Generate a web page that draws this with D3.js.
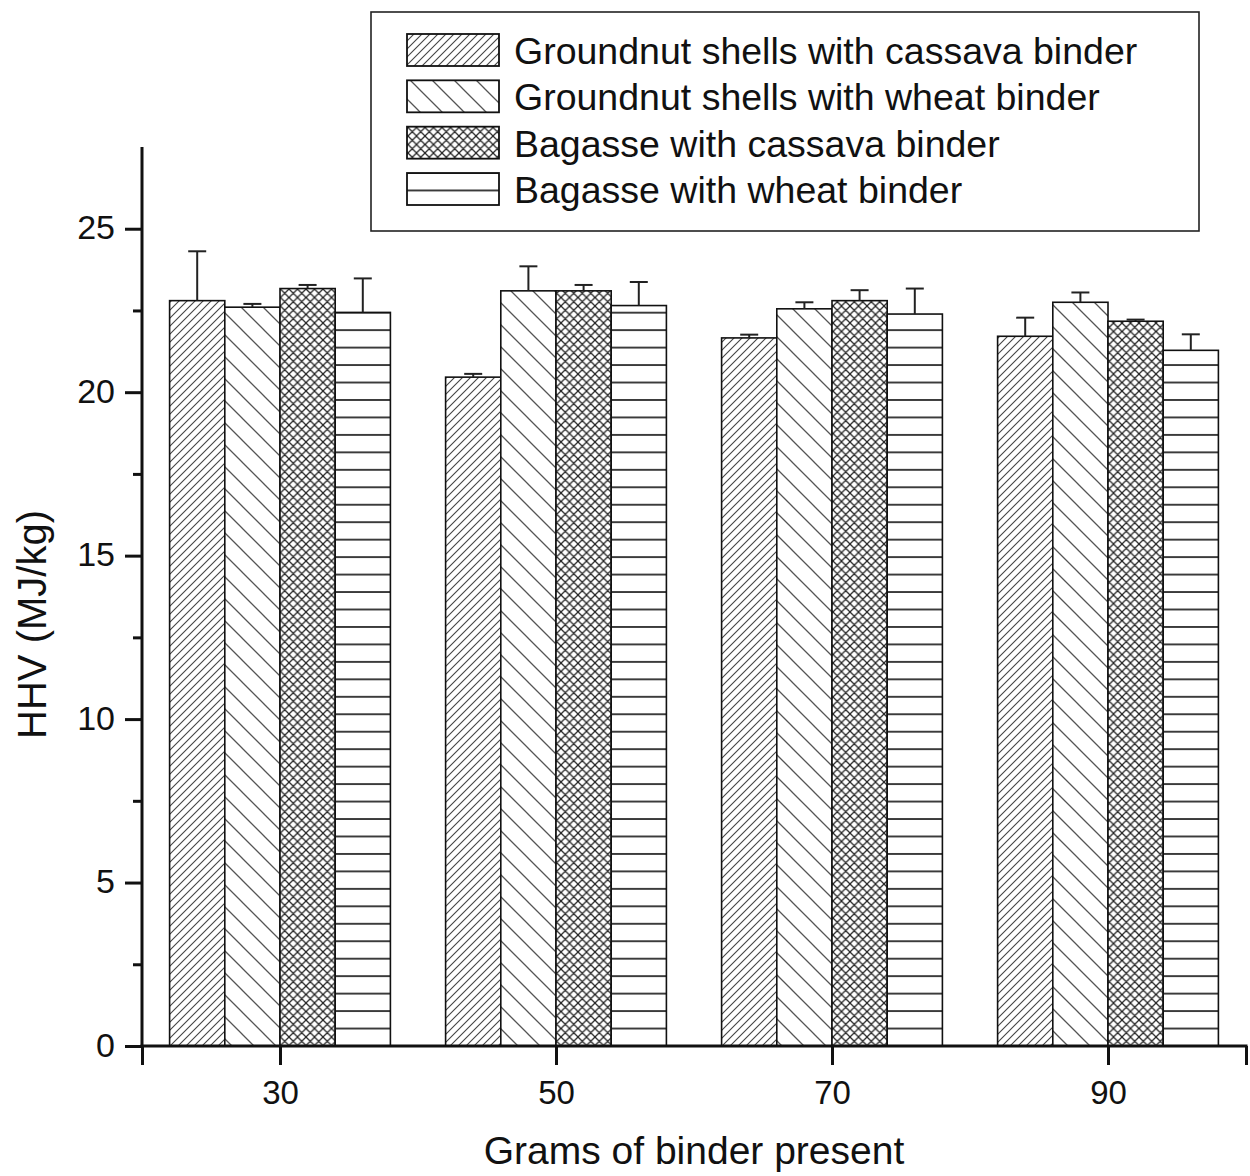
<!DOCTYPE html>
<html>
<head>
<meta charset="utf-8">
<script src="https://cdn.jsdelivr.net/npm/d3@7"></script>
<style>
  html, body { margin: 0; padding: 0; background: #fff; }
  svg { display: block; font-family: "Liberation Sans", Arial, sans-serif; }
</style>
</head>
<body>
<svg id="chart" width="1250" height="1176"></svg>
<script>
// Binder amounts (g) on the x axis
const binderGrams = [30, 50, 70, 90];

// Series names (legend order)
const seriesNames = [
  "Groundnut shells with cassava binder",
  "Groundnut shells with wheat binder",
  "Bagasse with cassava binder",
  "Bagasse with wheat binder"
];

// HHV means (MJ/kg) per series, one value per binder amount
const groundnutCassava = [22.80, 20.46, 21.66, 21.71];
const groundnutWheat   = [22.60, 23.10, 22.55, 22.75];
const bagasseCassava   = [23.17, 23.10, 22.80, 22.17];
const bagasseWheat     = [22.44, 22.65, 22.39, 21.28];

// Standard deviations (upper error bars)
const groundnutCassavaErr = [1.51, 0.10, 0.10, 0.57];
const groundnutWheatErr   = [0.10, 0.75, 0.20, 0.30];
const bagasseCassavaErr   = [0.11, 0.18, 0.32, 0.05];
const bagasseWheatErr     = [1.04, 0.72, 0.78, 0.49];

// Axis ticks
const yMajorTicks = [0, 5, 10, 15, 20, 25];
const yMinorTicks = [2.5, 7.5, 12.5, 17.5, 22.5];
const xTicks = [20, 30, 50, 70, 90, 100];

const seriesValues = [groundnutCassava, groundnutWheat, bagasseCassava, bagasseWheat];
const seriesErrors = [groundnutCassavaErr, groundnutWheatErr, bagasseCassavaErr, bagasseWheatErr];
const patternIds = ["hatchFwd", "hatchBack", "hatchCross", "hatchHoriz"];

const svg = d3.select("#chart");

const x = d3.scaleLinear().domain([20, 100]).range([142, 1246]);
const y = d3.scaleLinear().domain([0, 27.5]).range([1046, 147]);

// Bars inside a group span 16 x-units around the binder amount
const groupHalf = 8;
const inner = d3.scaleBand().domain(d3.range(seriesNames.length))
  .range([-groupHalf, groupHalf]).paddingInner(0).paddingOuter(0);

// ---- fill patterns ----
const defs = svg.append("defs");

const pFwd = defs.append("pattern").attr("id", "hatchFwd")
  .attr("patternUnits", "userSpaceOnUse").attr("width", 8).attr("height", 8);
pFwd.append("rect").attr("width", 8).attr("height", 8).attr("fill", "#fff");
pFwd.append("path").attr("d", "M-2,2 L2,-2 M0,8 L8,0 M6,10 L10,6")
  .attr("stroke", "#444").attr("stroke-width", 1.1);

const pBack = defs.append("pattern").attr("id", "hatchBack")
  .attr("patternUnits", "userSpaceOnUse").attr("width", 22).attr("height", 22);
pBack.append("rect").attr("width", 22).attr("height", 22).attr("fill", "#fff");
pBack.append("path").attr("d", "M-3,19 L3,25 M0,0 L22,22 M19,-3 L25,3")
  .attr("stroke", "#555").attr("stroke-width", 1.3);

const cs = 8.5;
const pCross = defs.append("pattern").attr("id", "hatchCross")
  .attr("patternUnits", "userSpaceOnUse").attr("width", cs).attr("height", cs);
pCross.append("rect").attr("width", cs).attr("height", cs).attr("fill", "#fff");
pCross.append("path")
  .attr("d", `M-2,2 L2,-2 M0,${cs} L${cs},0 M${cs - 2},${cs + 2} L${cs + 2},${cs - 2} ` +
             `M-2,${cs - 2} L2,${cs + 2} M0,0 L${cs},${cs} M${cs - 2},-2 L${cs + 2},2`)
  .attr("stroke", "#222").attr("stroke-width", 1.25);

const hSpacing = 17.46;
const pHoriz = defs.append("pattern").attr("id", "hatchHoriz")
  .attr("patternUnits", "userSpaceOnUse").attr("width", 10).attr("height", hSpacing)
  .attr("patternTransform", `translate(0, ${1046 % hSpacing})`);
pHoriz.append("rect").attr("width", 10).attr("height", hSpacing).attr("fill", "#fff");
pHoriz.append("rect").attr("x", 0).attr("y", -0.8).attr("width", 10).attr("height", 1.6)
  .attr("fill", "#111");
pHoriz.append("rect").attr("x", 0).attr("y", hSpacing - 0.8).attr("width", 10).attr("height", 1.6)
  .attr("fill", "#111");

// ---- bars ----
const barData = [];
binderGrams.forEach((g, gi) => {
  seriesValues.forEach((vals, si) => {
    barData.push({ g, si, v: vals[gi], e: seriesErrors[si][gi] });
  });
});

const barsG = svg.append("g");
barsG.selectAll("rect.bar").data(barData).enter().append("rect")
  .attr("class", "bar")
  .attr("x", d => x(d.g + inner(d.si)))
  .attr("width", d => x(d.g + inner(d.si) + inner.bandwidth()) - x(d.g + inner(d.si)))
  .attr("y", d => y(d.v))
  .attr("height", d => y(0) - y(d.v))
  .attr("fill", d => `url(#${patternIds[d.si]})`)
  .attr("stroke", "#111").attr("stroke-width", 1.6);

// ---- error bars (upper only) ----
const capHalf = 9;
const errG = svg.append("g").attr("stroke", "#222").attr("stroke-width", 2);
barData.forEach(d => {
  const cx = x(d.g + inner(d.si) + inner.bandwidth() / 2);
  errG.append("line").attr("x1", cx).attr("x2", cx)
    .attr("y1", y(d.v)).attr("y2", y(d.v + d.e));
  errG.append("line").attr("x1", cx - capHalf).attr("x2", cx + capHalf)
    .attr("y1", y(d.v + d.e)).attr("y2", y(d.v + d.e));
});

// ---- y axis ----
const yAxisG = svg.append("g").attr("transform", `translate(${x(20)},0)`);
yAxisG.call(d3.axisLeft(y).tickValues(yMajorTicks).tickSize(17).tickPadding(10).tickSizeOuter(0));
yAxisG.select(".domain").remove();
yAxisG.selectAll(".tick line").attr("stroke", "#111").attr("stroke-width", 3);
yAxisG.selectAll(".tick text")
  .attr("font-family", "'Liberation Sans', Arial, sans-serif")
  .attr("font-size", 34).attr("fill", "#111").attr("dy", "0.3em");
const yMinorG = svg.append("g").attr("transform", `translate(${x(20)},0)`);
yMinorG.call(d3.axisLeft(y).tickValues(yMinorTicks).tickSize(9).tickFormat(""));
yMinorG.select(".domain").remove();
yMinorG.selectAll(".tick line").attr("stroke", "#111").attr("stroke-width", 3);
svg.append("line").attr("x1", x(20)).attr("x2", x(20))
  .attr("y1", y(27.5)).attr("y2", y(0) + 1.5)
  .attr("stroke", "#111").attr("stroke-width", 3);

// ---- x axis ----
const xAxisG = svg.append("g").attr("transform", `translate(0,${y(0)})`);
xAxisG.call(d3.axisBottom(x).tickValues(xTicks).tickSize(19).tickPadding(16)
  .tickSizeOuter(0)
  .tickFormat(v => binderGrams.includes(v) ? String(v) : ""));
xAxisG.select(".domain").remove();
xAxisG.selectAll(".tick line").attr("stroke", "#111").attr("stroke-width", 3);
xAxisG.selectAll(".tick text")
  .attr("font-family", "'Liberation Sans', Arial, sans-serif")
  .attr("font-size", 33).attr("fill", "#111");
svg.append("line").attr("x1", x(20) - 1.5).attr("x2", x(100) + 1.5)
  .attr("y1", y(0)).attr("y2", y(0))
  .attr("stroke", "#111").attr("stroke-width", 3);

// ---- axis titles ----
svg.append("text")
  .attr("transform", `translate(46,${(y(0) + y(27.5)) / 2 + 28}) rotate(-90)`)
  .attr("text-anchor", "middle")
  .attr("font-size", 40).attr("fill", "#111")
  .text("HHV (MJ/kg)");
svg.append("text")
  .attr("x", 694).attr("y", 1164)
  .attr("text-anchor", "middle")
  .attr("font-size", 39).attr("fill", "#111")
  .text("Grams of binder present");

// ---- legend ----
const legend = svg.append("g");
legend.append("rect").attr("x", 371).attr("y", 12).attr("width", 828).attr("height", 219)
  .attr("fill", "#fff").attr("stroke", "#222").attr("stroke-width", 1.6);
const rowY = d3.scalePoint().domain(d3.range(seriesNames.length)).range([34, 173]);
const rows = legend.selectAll("g.row").data(seriesNames).enter().append("g").attr("class", "row");
rows.append("rect")
  .attr("x", 407).attr("y", (d, i) => rowY(i))
  .attr("width", 92).attr("height", 32)
  .attr("fill", (d, i) => `url(#${patternIds[i]})`)
  .attr("stroke", "#111").attr("stroke-width", 1.8);
rows.append("text")
  .attr("x", 514).attr("y", (d, i) => rowY(i) + 30)
  .attr("font-size", 37.5).attr("fill", "#111")
  .text(d => d);
</script>
</body>
</html>
